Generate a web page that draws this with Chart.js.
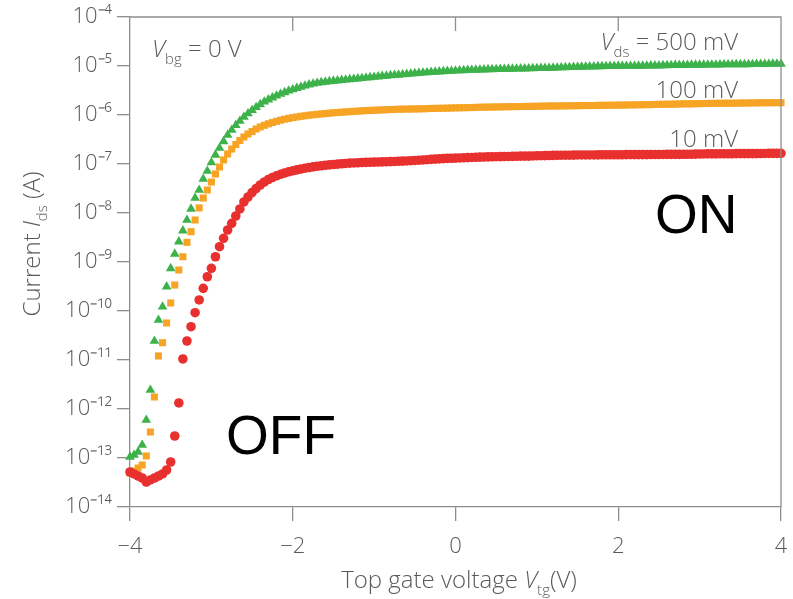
<!DOCTYPE html>
<html>
<head>
<meta charset="utf-8">
<script src="https://cdn.jsdelivr.net/npm/chart.js@4.4.0/dist/chart.umd.min.js"></script>
<style>
html, body { margin: 0; padding: 0; background: #fff; }
#wrap { width: 793px; height: 599px; }
</style>
</head>
<body>
<div id="wrap"><canvas id="chart" width="793" height="599"></canvas></div>
<script>
// top gate voltage (V)
const voltage = [
  -4.00, -3.95, -3.90, -3.85, -3.80, -3.75, -3.70, -3.65, -3.60, -3.55,
  -3.50, -3.45, -3.40, -3.35, -3.30, -3.25, -3.20, -3.15, -3.10, -3.05,
  -3.00, -2.95, -2.90, -2.85, -2.80, -2.75, -2.70, -2.65, -2.60, -2.55,
  -2.50, -2.45, -2.40, -2.35, -2.30, -2.25, -2.20, -2.15, -2.10, -2.05,
  -2.00, -1.95, -1.90, -1.85, -1.80, -1.75, -1.70, -1.65, -1.60, -1.55,
  -1.50, -1.45, -1.40, -1.35, -1.30, -1.25, -1.20, -1.15, -1.10, -1.05,
  -1.00, -0.95, -0.90, -0.85, -0.80, -0.75, -0.70, -0.65, -0.60, -0.55,
  -0.50, -0.45, -0.40, -0.35, -0.30, -0.25, -0.20, -0.15, -0.10, -0.05,
  0.00, 0.05, 0.10, 0.15, 0.20, 0.25, 0.30, 0.35, 0.40, 0.45,
  0.50, 0.55, 0.60, 0.65, 0.70, 0.75, 0.80, 0.85, 0.90, 0.95,
  1.00, 1.05, 1.10, 1.15, 1.20, 1.25, 1.30, 1.35, 1.40, 1.45,
  1.50, 1.55, 1.60, 1.65, 1.70, 1.75, 1.80, 1.85, 1.90, 1.95,
  2.00, 2.05, 2.10, 2.15, 2.20, 2.25, 2.30, 2.35, 2.40, 2.45,
  2.50, 2.55, 2.60, 2.65, 2.70, 2.75, 2.80, 2.85, 2.90, 2.95,
  3.00, 3.05, 3.10, 3.15, 3.20, 3.25, 3.30, 3.35, 3.40, 3.45,
  3.50, 3.55, 3.60, 3.65, 3.70, 3.75, 3.80, 3.85, 3.90, 3.95,
  4.00
];

// Vds = 500 mV
const ids500 = [
  1.05e-13, 1.15e-13, 1.33e-13, 1.84e-13, 5.96e-13, 2.44e-12, 2.44e-11, 6.55e-11, 1.22e-10, 3.13e-10,
  7.4e-10, 1.46e-9, 2.6e-9, 4.35e-9, 7.2e-9, 1.21e-8, 2.02e-8, 2.95e-8, 4.94e-8, 7.2e-8,
  1.07e-7, 1.53e-7, 2.12e-7, 2.9e-7, 3.9e-7, 4.94e-7, 6.16e-7, 7.54e-7, 9.1e-7, 1.07e-6,
  1.25e-6, 1.44e-6, 1.64e-6, 1.86e-6, 2.06e-6, 2.26e-6, 2.47e-6, 2.68e-6, 2.9e-6, 3.12e-6,
  3.31e-6, 3.52e-6, 3.73e-6, 3.95e-6, 4.15e-6, 4.33e-6, 4.5e-6, 4.63e-6, 4.75e-6, 4.85e-6,
  4.95e-6, 5.04e-6, 5.13e-6, 5.23e-6, 5.33e-6, 5.43e-6, 5.53e-6, 5.63e-6, 5.74e-6, 5.85e-6,
  5.96e-6, 6.07e-6, 6.19e-6, 6.3e-6, 6.41e-6, 6.5e-6, 6.6e-6, 6.71e-6, 6.83e-6, 6.94e-6,
  7.06e-6, 7.16e-6, 7.27e-6, 7.37e-6, 7.48e-6, 7.57e-6, 7.66e-6, 7.75e-6, 7.84e-6, 7.91e-6,
  7.99e-6, 8.07e-6, 8.14e-6, 8.2e-6, 8.26e-6, 8.32e-6, 8.38e-6, 8.44e-6, 8.5e-6, 8.54e-6,
  8.58e-6, 8.62e-6, 8.66e-6, 8.7e-6, 8.74e-6, 8.78e-6, 8.82e-6, 8.86e-6, 8.9e-6, 8.95e-6,
  8.99e-6, 9.03e-6, 9.07e-6, 9.11e-6, 9.16e-6, 9.22e-6, 9.29e-6, 9.35e-6, 9.42e-6, 9.48e-6,
  9.55e-6, 9.6e-6, 9.64e-6, 9.68e-6, 9.73e-6, 9.78e-6, 9.82e-6, 9.86e-6, 9.91e-6, 9.93e-6,
  9.95e-6, 9.98e-6, 1.0e-5, 1.0e-5, 1.0e-5, 1.003e-5, 1.005e-5, 1.01e-5, 1.014e-5, 1.017e-5,
  1.019e-5, 1.025e-5, 1.03e-5, 1.035e-5, 1.04e-5, 1.04e-5, 1.04e-5, 1.045e-5, 1.05e-5, 1.05e-5,
  1.05e-5, 1.055e-5, 1.06e-5, 1.06e-5, 1.06e-5, 1.065e-5, 1.07e-5, 1.07e-5, 1.07e-5, 1.075e-5,
  1.08e-5, 1.08e-5, 1.08e-5, 1.085e-5, 1.09e-5, 1.09e-5, 1.09e-5, 1.095e-5, 1.10e-5, 1.10e-5,
  1.10e-5
];

// Vds = 100 mV
const ids100 = [
  4.94e-14, 5.43e-14, 6.25e-14, 7.2e-14, 1.10e-13, 3.39e-13, 1.76e-12, 1.21e-11, 2.25e-11, 5.69e-11,
  1.46e-10, 3.39e-10, 6.87e-10, 1.28e-9, 2.52e-9, 4.15e-9, 7.2e-9, 1.27e-8, 2.02e-8, 2.95e-8,
  4.29e-8, 6.25e-8, 8.69e-8, 1.21e-7, 1.60e-7, 2.02e-7, 2.5e-7, 3.02e-7, 3.56e-7, 4.1e-7,
  4.6e-7, 5.18e-7, 5.69e-7, 6.16e-7, 6.61e-7, 7.03e-7, 7.44e-7, 7.83e-7, 8.2e-7, 8.52e-7,
  8.84e-7, 9.12e-7, 9.4e-7, 9.65e-7, 9.9e-7, 1.01e-6, 1.03e-6, 1.05e-6, 1.07e-6, 1.09e-6,
  1.11e-6, 1.125e-6, 1.14e-6, 1.155e-6, 1.17e-6, 1.185e-6, 1.2e-6, 1.215e-6, 1.23e-6, 1.24e-6,
  1.25e-6, 1.26e-6, 1.27e-6, 1.28e-6, 1.29e-6, 1.3e-6, 1.31e-6, 1.315e-6, 1.32e-6, 1.325e-6,
  1.33e-6, 1.335e-6, 1.34e-6, 1.35e-6, 1.36e-6, 1.365e-6, 1.37e-6, 1.375e-6, 1.38e-6, 1.39e-6,
  1.40e-6, 1.405e-6, 1.41e-6, 1.415e-6, 1.42e-6, 1.43e-6, 1.44e-6, 1.445e-6, 1.45e-6, 1.455e-6,
  1.46e-6, 1.465e-6, 1.47e-6, 1.475e-6, 1.48e-6, 1.485e-6, 1.49e-6, 1.495e-6, 1.50e-6, 1.505e-6,
  1.51e-6, 1.515e-6, 1.52e-6, 1.525e-6, 1.53e-6, 1.53e-6, 1.53e-6, 1.535e-6, 1.54e-6, 1.545e-6,
  1.55e-6, 1.555e-6, 1.56e-6, 1.56e-6, 1.56e-6, 1.57e-6, 1.58e-6, 1.58e-6, 1.58e-6, 1.585e-6,
  1.59e-6, 1.595e-6, 1.60e-6, 1.605e-6, 1.61e-6, 1.615e-6, 1.62e-6, 1.625e-6, 1.63e-6, 1.64e-6,
  1.65e-6, 1.655e-6, 1.66e-6, 1.665e-6, 1.67e-6, 1.68e-6, 1.69e-6, 1.69e-6, 1.69e-6, 1.70e-6,
  1.71e-6, 1.715e-6, 1.72e-6, 1.725e-6, 1.73e-6, 1.735e-6, 1.74e-6, 1.74e-6, 1.74e-6, 1.745e-6,
  1.75e-6, 1.755e-6, 1.76e-6, 1.765e-6, 1.77e-6, 1.775e-6, 1.78e-6, 1.78e-6, 1.78e-6, 1.78e-6,
  1.78e-6
];

// Vds = 10 mV
const ids10 = [
  5.18e-14, 4.72e-14, 4.29e-14, 3.91e-14, 3.24e-14, 3.56e-14, 3.91e-14, 4.29e-14, 4.72e-14, 5.69e-14,
  8.29e-14, 2.81e-13, 1.33e-12, 1.05e-11, 2.44e-11, 4.78e-11, 9.23e-11, 1.68e-10, 2.9e-10, 5.0e-10,
  7.44e-10, 1.28e-9, 2.05e-9, 3.05e-9, 4.5e-9, 6.16e-9, 8.69e-9, 1.21e-8, 1.68e-8, 2.12e-8,
  2.62e-8, 3.16e-8, 3.73e-8, 4.29e-8, 4.83e-8, 5.3e-8, 5.74e-8, 6.16e-8, 6.55e-8, 6.93e-8,
  7.26e-8, 7.6e-8, 7.91e-8, 8.2e-8, 8.48e-8, 8.73e-8, 8.97e-8, 9.19e-8, 9.4e-8, 9.6e-8,
  9.77e-8, 9.94e-8, 1.01e-7, 1.025e-7, 1.04e-7, 1.05e-7, 1.06e-7, 1.07e-7, 1.08e-7, 1.085e-7,
  1.09e-7, 1.098e-7, 1.105e-7, 1.112e-7, 1.12e-7, 1.127e-7, 1.135e-7, 1.145e-7, 1.155e-7, 1.167e-7,
  1.18e-7, 1.195e-7, 1.21e-7, 1.225e-7, 1.24e-7, 1.255e-7, 1.27e-7, 1.285e-7, 1.30e-7, 1.31e-7,
  1.32e-7, 1.33e-7, 1.34e-7, 1.35e-7, 1.36e-7, 1.37e-7, 1.38e-7, 1.39e-7, 1.40e-7, 1.405e-7,
  1.41e-7, 1.415e-7, 1.42e-7, 1.425e-7, 1.43e-7, 1.44e-7, 1.45e-7, 1.45e-7, 1.45e-7, 1.46e-7,
  1.47e-7, 1.475e-7, 1.48e-7, 1.49e-7, 1.50e-7, 1.505e-7, 1.51e-7, 1.51e-7, 1.51e-7, 1.52e-7,
  1.53e-7, 1.53e-7, 1.53e-7, 1.53e-7, 1.53e-7, 1.535e-7, 1.54e-7, 1.54e-7, 1.54e-7, 1.54e-7,
  1.54e-7, 1.545e-7, 1.55e-7, 1.55e-7, 1.55e-7, 1.55e-7, 1.55e-7, 1.555e-7, 1.56e-7, 1.56e-7,
  1.56e-7, 1.565e-7, 1.57e-7, 1.57e-7, 1.57e-7, 1.575e-7, 1.58e-7, 1.58e-7, 1.58e-7, 1.59e-7,
  1.60e-7, 1.605e-7, 1.61e-7, 1.61e-7, 1.61e-7, 1.615e-7, 1.62e-7, 1.62e-7, 1.62e-7, 1.625e-7,
  1.63e-7, 1.63e-7, 1.63e-7, 1.63e-7, 1.63e-7, 1.635e-7, 1.64e-7, 1.645e-7, 1.65e-7, 1.65e-7,
  1.65e-7
];

const yTicks = [1e-14, 1e-13, 1e-12, 1e-11, 1e-10, 1e-9, 1e-8, 1e-7, 1e-6, 1e-5, 1e-4];
const yTickLabels = ['10⁻¹⁴', '10⁻¹³', '10⁻¹²', '10⁻¹¹', '10⁻¹⁰', '10⁻⁹', '10⁻⁸', '10⁻⁷', '10⁻⁶', '10⁻⁵', '10⁻⁴'];
const xTicks = [-4, -2, 0, 2, 4];
const xTickLabels = ['−4', '−2', '0', '2', '4'];

const axisGrey = '#8e8e8e';
const textGrey = '#5a5a5a';
const fam = '"Open Sans", "DejaVu Sans", sans-serif';

function pts(ys) {
    return voltage.map((v, i) => ({ x: v, y: ys[i] }));
}

// text with italic / subscript pieces
function rich(ctx, parts, x, y, align, size) {
    let w = 0;
    const info = parts.map(p => {
        let f;
        if (p[1] === 'i') f = 'italic 300 ' + size + 'px ' + fam;
        else if (p[1] === 's') f = '300 ' + Math.round(size * 0.64) + 'px ' + fam;
        else f = '300 ' + size + 'px ' + fam;
        ctx.font = f;
        const m = ctx.measureText(p[0]).width;
        w += m;
        return { f, m };
    });
    let cx = align === 'right' ? x - w : align === 'center' ? x - w / 2 : x;
    parts.forEach((p, i) => {
        ctx.font = info[i].f;
        ctx.fillText(p[0], cx, p[1] === 's' ? y + size * 0.3 : y);
        cx += info[i].m;
    });
}

const frame = {
    id: 'frame',
    afterDraw(chart) {
        const ctx = chart.ctx;
        const a = chart.chartArea;
        const xs = chart.scales.x;
        ctx.save();
        ctx.strokeStyle = axisGrey;
        ctx.lineWidth = 1.3;
        ctx.beginPath();
        ctx.moveTo(a.left, a.top);
        ctx.lineTo(a.right, a.top);
        ctx.lineTo(a.right, a.bottom);
        xTicks.slice(1, -1).forEach(v => {
            const px = xs.getPixelForValue(v);
            ctx.moveTo(px, a.top);
            ctx.lineTo(px, a.top + 14);
        });
        ctx.stroke();

        ctx.fillStyle = textGrey;
        ctx.textBaseline = 'alphabetic';
        rich(ctx, [['V', 'i'], ['bg', 's'], [' = 0 V', 'n']], 152, 57, 'left', 24);
        rich(ctx, [['V', 'i'], ['ds', 's'], [' = 500 mV', 'n']], 738, 50, 'right', 24);
        rich(ctx, [['100 mV', 'n']], 738, 98, 'right', 24);
        rich(ctx, [['10 mV', 'n']], 738, 147, 'right', 24);

        // axis titles
        rich(ctx, [['Top gate voltage ', 'n'], ['V', 'i'], ['tg', 's'], ['(V)', 'n']], 459, 588, 'center', 24);
        ctx.save();
        ctx.translate(40, 244);
        ctx.rotate(-Math.PI / 2);
        rich(ctx, [['Current ', 'n'], ['I', 'i'], ['ds', 's'], [' (A)', 'n']], 0, 0, 'center', 24);
        ctx.restore();

        ctx.fillStyle = '#000';
        ctx.font = '55px "Liberation Sans", Arial, sans-serif';
        ctx.textAlign = 'left';
        ctx.fillText('ON', 655, 233);
        ctx.fillText('OFF', 226, 454);
        ctx.restore();
    }
};

const ctx = document.getElementById('chart');

const miGrafica = new Chart(ctx, {
    type: 'scatter',
    data: {
        datasets: [
            {
                label: '10 mV',
                data: pts(ids10),
                pointStyle: 'circle',
                pointRadius: 4.8,
                backgroundColor: '#e8302f',
                borderWidth: 0,
                clip: false
            },
            {
                label: '100 mV',
                data: pts(ids100),
                pointStyle: 'rect',
                pointRadius: 5,
                backgroundColor: '#f7a425',
                borderWidth: 0,
                clip: false
            },
            {
                label: '500 mV',
                data: pts(ids500),
                pointStyle: 'triangle',
                pointRadius: 5.6,
                backgroundColor: '#3db24b',
                borderWidth: 0,
                clip: false
            }
        ]
    },
    options: {
        responsive: false,
        animation: false,
        layout: { padding: { top: 17, right: 12, left: 0, bottom: 0 } },
        plugins: { legend: { display: false }, tooltip: { enabled: false } },
        scales: {
            x: {
                type: 'linear',
                min: -4,
                max: 4,
                afterBuildTicks: s => { s.ticks = xTicks.map(v => ({ value: v })); },
                afterFit: s => { s.height = 92; s.paddingLeft = 0; s.paddingRight = 0; },
                ticks: {
                    callback: (v, i) => xTickLabels[i],
                    color: textGrey,
                    font: { family: fam, size: 22, weight: 300 },
                    padding: 13,
                    maxRotation: 0
                },
                grid: { drawOnChartArea: false, tickLength: 14, color: axisGrey, lineWidth: 1.3 },
                border: { color: axisGrey, width: 1.3 }
            },
            y: {
                type: 'logarithmic',
                min: 1e-14,
                max: 1e-4,
                afterBuildTicks: s => { s.ticks = yTicks.map(v => ({ value: v })); },
                afterFit: s => { s.width = 130; s.paddingTop = 0; s.paddingBottom = 0; },
                ticks: {
                    callback: (v, i) => yTickLabels[i],
                    color: textGrey,
                    font: { family: fam, size: 22, weight: 300 },
                    padding: 5,
                    autoSkip: false
                },
                grid: { drawOnChartArea: false, tickLength: 13, color: axisGrey, lineWidth: 1.3 },
                border: { color: axisGrey, width: 1.3 }
            }
        }
    },
    plugins: [frame]
});
</script>
</body>
</html>
